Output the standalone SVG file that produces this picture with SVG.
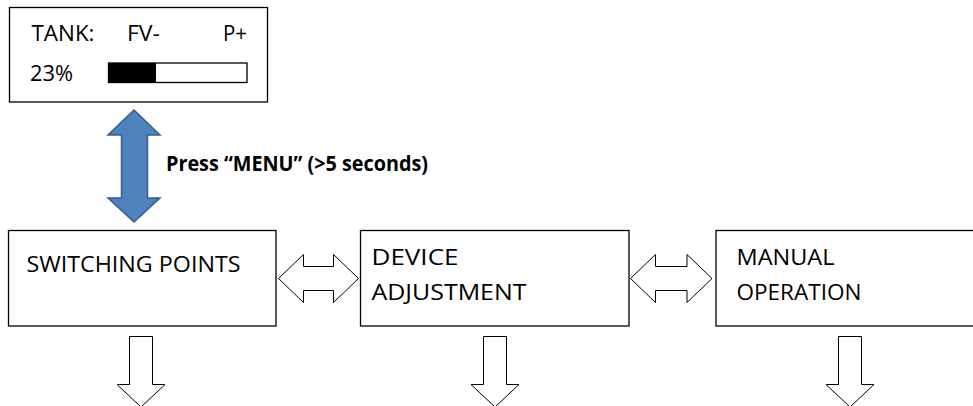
<svg xmlns="http://www.w3.org/2000/svg" width="973" height="406" viewBox="0 0 973 406">
<style>
.box{fill:#fff;stroke:#000;stroke-width:1.3}
.t{font-family:"Open Sans","Liberation Sans",sans-serif;font-size:21px;fill:#000}
.b{font-weight:bold}
.arr{fill:#fff;stroke:#000;stroke-width:1}
.blue{fill:#4F81BD;stroke:#385D8A;stroke-width:1.5}
</style>
<rect width="973" height="406" fill="#fff"/>
<g id="tank">
<rect class="box" x="9.5" y="7.5" width="258" height="94.5"/>
<text class="t" x="31.5" y="41" textLength="63" lengthAdjust="spacingAndGlyphs">TANK:</text>
<text class="t" x="127" y="41" textLength="33" lengthAdjust="spacingAndGlyphs">FV-</text>
<text class="t" x="223" y="41" textLength="24" lengthAdjust="spacingAndGlyphs">P+</text>
<text class="t" x="30" y="81" textLength="43" lengthAdjust="spacingAndGlyphs">23%</text>
<rect x="108.5" y="63" width="138.5" height="19.5" fill="#fff" stroke="#000" stroke-width="1.3"/>
<rect x="108.5" y="63" width="47.5" height="19.5" fill="#000"/>
</g>
<g id="switching-points">
<rect class="box" x="8.5" y="230.5" width="267.5" height="95.5"/>
<text class="t" x="26.5" y="272" textLength="214" lengthAdjust="spacingAndGlyphs">SWITCHING POINTS</text>
</g>
<g id="device-adjustment">
<rect class="box" x="360.5" y="230.5" width="268.5" height="95.5"/>
<text class="t" x="371.5" y="265" textLength="87" lengthAdjust="spacingAndGlyphs">DEVICE</text>
<text class="t" x="371.5" y="300" textLength="155" lengthAdjust="spacingAndGlyphs">ADJUSTMENT</text>
</g>
<g id="manual-operation">
<rect class="box" x="716" y="230.5" width="270" height="95.5"/>
<text class="t" x="736.5" y="265" textLength="98" lengthAdjust="spacingAndGlyphs">MANUAL</text>
<text class="t" x="736.5" y="300" textLength="125" lengthAdjust="spacingAndGlyphs">OPERATION</text>
</g>
<g id="connectors">
<polygon class="blue" points="134,110 160,135 147.5,135 147.5,198 160,198 134,222 108,198 121.5,198 121.5,135 108,135"/>
<text class="t b" x="166" y="171" textLength="262" lengthAdjust="spacingAndGlyphs">Press “MENU” (&gt;5 seconds)</text>
<polygon class="arr" points="278.5,278.5 303.5,254.5 303.5,266.5 333.5,266.5 333.5,254.5 358.5,278.5 333.5,302.5 333.5,290.5 303.5,290.5 303.5,302.5"/>
<polygon class="arr" points="630.5,278.5 655.5,254.5 655.5,266.5 687,266.5 687,254.5 712,278.5 687,302.5 687,290.5 655.5,290.5 655.5,302.5"/>
<polygon class="arr" points="129.5,336.5 152.5,336.5 152.5,384.5 165,384.5 141,407 117,384.5 129.5,384.5"/>
<polygon class="arr" points="483.5,336.5 506.5,336.5 506.5,384.5 519,384.5 495,407 471,384.5 483.5,384.5"/>
<polygon class="arr" points="838.5,336.5 861.5,336.5 861.5,384.5 874,384.5 850,407 826,384.5 838.5,384.5"/>
</g>
</svg>
